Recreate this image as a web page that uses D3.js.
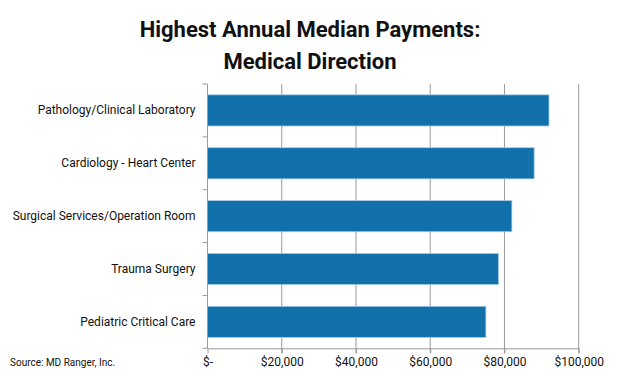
<!DOCTYPE html>
<html><head><meta charset="utf-8">
<script src="https://cdn.jsdelivr.net/npm/d3@7"></script>
<style>body{margin:0;background:#fff}</style>
</head><body>
<svg id="c" width="620" height="381"></svg>
<script>
const categories = ["Pathology/Clinical Laboratory","Cardiology - Heart Center","Surgical Services/Operation Room","Trauma Surgery","Pediatric Critical Care"];
const values = [92000, 88000, 82000, 78400, 75000];
const tickValues = [0, 20000, 40000, 60000, 80000, 100000];
const tickLabels = ["$-", "$20,000", "$40,000", "$60,000", "$80,000", "$100,000"];
const titleLines = ["Highest Annual Median Payments:", "Medical Direction"];
const sourceText = "Source: MD Ranger, Inc.";

const svg = d3.select("#c");
const mLeft = 207.5, mRight = 578.7, mTop = 84, mBottom = 348.3;
const x = d3.scaleLinear().domain([0, 100000]).range([mLeft, mRight]);
const y = d3.scaleBand().domain(categories).range([mTop, mBottom]).paddingInner(0.41).paddingOuter(0.205);

const narrow = "'Liberation Sans Narrow','Arial Narrow','Roboto',sans-serif";

// title
svg.selectAll("text.title").data(titleLines).enter().append("text")
  .attr("class","title")
  .attr("x", 310).attr("y", (d,i)=>37 + i*32)
  .attr("text-anchor","middle")
  .style("font-family", narrow).style("font-weight","bold").style("font-size","22px")
  .attr("fill","#111").text(d=>d);

// gridlines
svg.append("g").selectAll("line").data(tickValues.slice(1)).enter().append("line")
  .attr("x1", d=>x(d)).attr("x2", d=>x(d)).attr("y1", mTop).attr("y2", mBottom + 5)
  .attr("stroke","#9a9a9a").attr("stroke-width",1);

// bars
svg.append("g").selectAll("rect").data(values).enter().append("rect")
  .attr("x", x(0)).attr("y", (d,i)=>y(categories[i]))
  .attr("width", d=>x(d)-x(0)).attr("height", y.bandwidth())
  .attr("fill","#1270aa").attr("stroke","#a9cde8").attr("stroke-width",0.8);

// bottom axis
const xAxis = d3.axisBottom(x).tickValues(tickValues).tickFormat((d,i)=>tickLabels[i]).tickSize(5).tickSizeOuter(0);
const gx = svg.append("g").attr("transform",`translate(0,${mBottom})`).call(xAxis);
gx.select(".domain").attr("stroke","#9a9a9a");
gx.selectAll(".tick line").attr("stroke","#9a9a9a");
gx.selectAll(".tick text").attr("dy",null).attr("y",18).attr("fill","#111")
  .style("font-family","'Roboto','DejaVu Sans',sans-serif").style("font-size","12px");

// left axis
const yAxis = d3.axisLeft(y).tickSize(0).tickPadding(12);
const gy = svg.append("g").attr("transform",`translate(${mLeft},0)`).call(yAxis);
gy.select(".domain").attr("stroke","#9a9a9a").attr("d", `M0,${mTop}V${mBottom}`);
gy.selectAll(".tick text").attr("fill","#111").attr("x",-12)
  .style("font-family","'Roboto','DejaVu Sans',sans-serif").style("font-size","12px");
// category boundary ticks
const bounds = [mTop, ...categories.slice(1).map(c=>y(c) - y.step()*y.paddingInner()/2), mBottom];
svg.append("g").selectAll("line").data(bounds).enter().append("line")
  .attr("x1", mLeft-5).attr("x2", mLeft).attr("y1", d=>d).attr("y2", d=>d)
  .attr("stroke","#9a9a9a");

// source
svg.append("text").attr("x",10).attr("y",366)
  .style("font-family","'Roboto','DejaVu Sans',sans-serif").style("font-size","10px")
  .attr("fill","#111").text(sourceText);
</script>
</body></html>
